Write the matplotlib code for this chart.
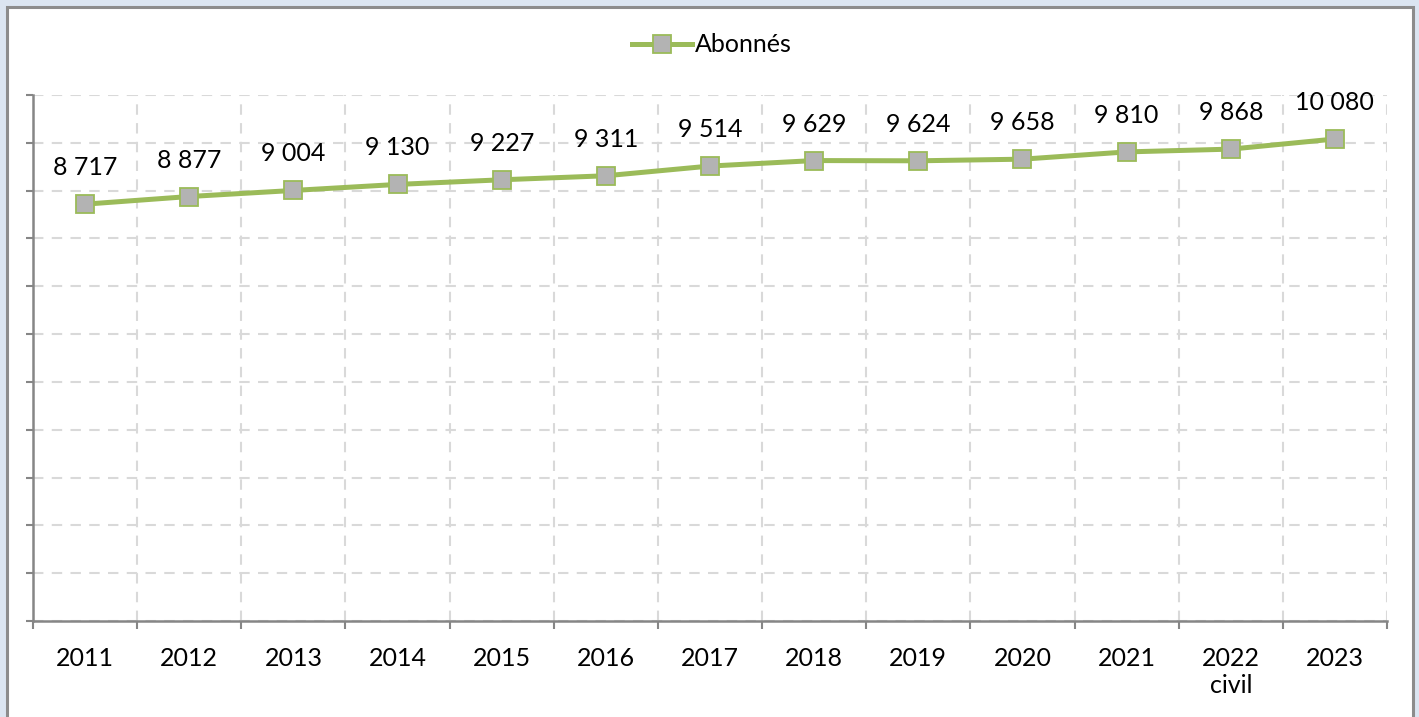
import matplotlib.pyplot as plt
from matplotlib.patches import Rectangle
import numpy as np

plt.rcParams['font.family'] = ['Lato', 'DejaVu Sans']

years = ['2011', '2012', '2013', '2014', '2015', '2016', '2017',
         '2018', '2019', '2020', '2021', '2022\ncivil', '2023']
abonnes = [8717, 8877, 9004, 9130, 9227, 9311, 9514,
           9629, 9624, 9658, 9810, 9868, 10080]

LINE = '#9bbb59'
MARK = '#b3b3b3'
GRID = '#d9d9d9'
AXIS = '#868686'


def fmt(v):
    return f"{v:,}".replace(',', ' ')


def main():
    W, H = 1419, 717
    fig = plt.figure(figsize=(W / 100, H / 100), dpi=100)
    fig.patch.set_facecolor('#dbe5f1')
    # white chart area with grey frame
    fig.patches.append(Rectangle((7 / W, -0.05), (1413 - 7) / W, 1.05 - 7 / H,
                                 transform=fig.transFigure, facecolor='white',
                                 edgecolor='#8c8c8c', linewidth=2.2, zorder=-5))

    ax = fig.add_axes([33 / W, (H - 621) / H, (1387 - 33) / W, (621 - 95) / H])
    ax.set_facecolor('none')

    x = np.arange(len(years))
    ax.plot(x, abonnes, color=LINE, linewidth=3.6, marker='s', markersize=12.5,
            markerfacecolor=MARK, markeredgecolor=LINE, markeredgewidth=1.3,
            label='Abonnés', zorder=3)

    for xi, v in zip(x, abonnes):
        ax.annotate(fmt(v), (xi, v), xytext=(0, 18), textcoords='offset points',
                    ha='center', va='bottom', fontsize=18, color='black')

    ax.set_xlim(-0.5, len(years) - 0.5)
    ax.set_ylim(0, 11000)
    ax.set_yticks(np.arange(0, 11001, 1000))
    ax.set_yticklabels([])
    ax.set_xticks(np.arange(-0.5, len(years), 1.0))
    ax.set_xticklabels([])
    ax.set_xticks(x, minor=True)
    ax.set_xticklabels(years, minor=True, fontsize=18)
    ax.tick_params(axis='x', which='minor', length=0, pad=19)
    ax.tick_params(axis='x', which='major', length=6, width=1.5, color=AXIS)
    ax.tick_params(axis='y', which='major', length=5, width=1.5, color=AXIS)

    ax.grid(True, which='major', color=GRID, linestyle=(0, (5, 4)), linewidth=1.5)
    ax.set_axisbelow(True)

    for s in ['top', 'right']:
        ax.spines[s].set_visible(False)
    for s in ['left', 'bottom']:
        ax.spines[s].set_color(AXIS)
        ax.spines[s].set_linewidth(1.8)

    fig.legend(loc='center', bbox_to_anchor=(712 / W, (H - 45) / H),
               frameon=False, fontsize=18, handlelength=2.4,
               handletextpad=0.1, borderaxespad=0)

    fig.savefig('out.png', dpi=100, facecolor=fig.get_facecolor())


if __name__ == '__main__':
    main()
